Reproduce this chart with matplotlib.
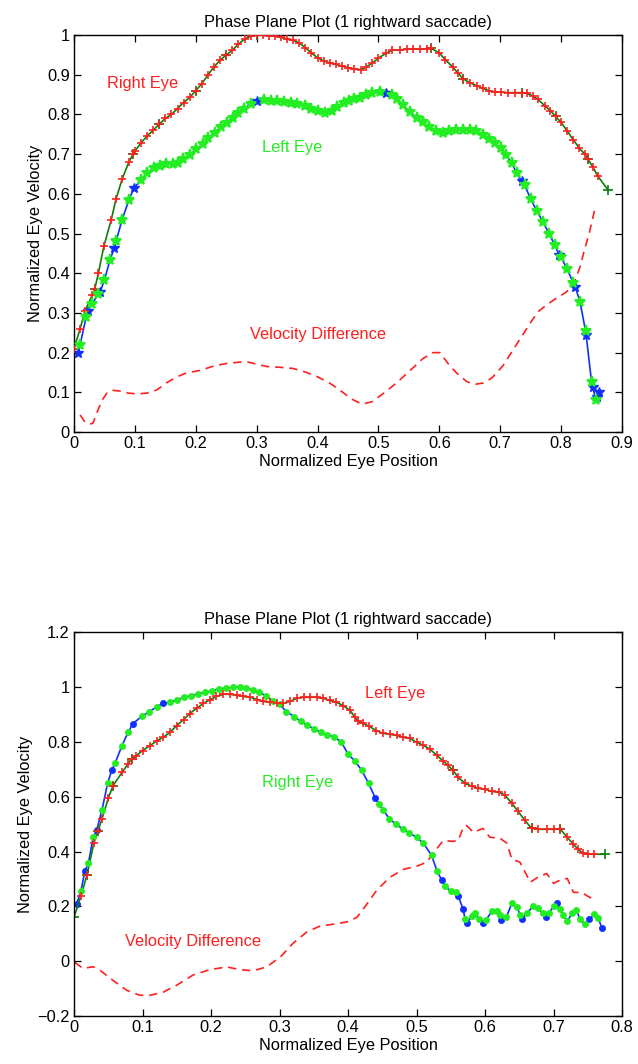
import numpy as np
import matplotlib
matplotlib.use("Agg")
import matplotlib.pyplot as plt
from matplotlib.ticker import FuncFormatter, MultipleLocator

plt.rcParams['font.family'] = ['Liberation Sans', 'DejaVu Sans']

# ---------------- Top panel data ----------------
top_right_x = [0.0, 0.01, 0.018, 0.03, 0.034, 0.04, 0.049, 0.061, 0.069, 0.079,
               0.09, 0.097, 0.10, 0.11, 0.12, 0.13, 0.14, 0.15, 0.16, 0.17,
               0.18, 0.19, 0.20, 0.21, 0.22, 0.23, 0.24, 0.25, 0.26, 0.27,
               0.28, 0.29, 0.30, 0.31, 0.32, 0.33, 0.34, 0.35, 0.36, 0.37,
               0.38, 0.39, 0.40, 0.41, 0.42, 0.43, 0.44, 0.45, 0.46, 0.471,
               0.48, 0.49, 0.50, 0.512, 0.523, 0.535, 0.547, 0.557, 0.568, 0.58,
               0.586, 0.60, 0.61, 0.622, 0.63, 0.639, 0.65, 0.661, 0.671, 0.681,
               0.691, 0.702, 0.713, 0.724, 0.735, 0.744, 0.753, 0.762, 0.773, 0.782,
               0.791, 0.80, 0.81, 0.82, 0.83, 0.839, 0.844, 0.852, 0.86, 0.877]
top_right_y = [0.21, 0.26, 0.305, 0.345, 0.36, 0.40, 0.468, 0.534, 0.587, 0.637,
               0.68, 0.70, 0.708, 0.728, 0.746, 0.76, 0.776, 0.79, 0.80, 0.815,
               0.83, 0.843, 0.86, 0.878, 0.90, 0.92, 0.937, 0.95, 0.962, 0.977,
               0.99, 0.997, 1.0, 1.0, 0.999, 0.997, 0.994, 0.99, 0.987, 0.98,
               0.968, 0.955, 0.943, 0.935, 0.93, 0.926, 0.922, 0.918, 0.915, 0.913,
               0.92, 0.93, 0.942, 0.954, 0.962, 0.963, 0.964, 0.965, 0.965, 0.965,
               0.967, 0.955, 0.937, 0.92, 0.905, 0.89, 0.88, 0.873, 0.866, 0.86,
               0.857, 0.856, 0.855, 0.855, 0.855, 0.853, 0.847, 0.838, 0.822, 0.81,
               0.795, 0.78, 0.758, 0.736, 0.715, 0.70, 0.687, 0.668, 0.645, 0.61]

top_left_x = [0.007, 0.01, 0.02, 0.023, 0.03, 0.04, 0.043, 0.05, 0.059, 0.066,
              0.069, 0.079, 0.09, 0.098, 0.11, 0.12, 0.131, 0.141, 0.151, 0.162,
              0.171, 0.179, 0.19, 0.20, 0.212, 0.22, 0.231, 0.241, 0.251, 0.261,
              0.27, 0.279, 0.29, 0.30, 0.312, 0.323, 0.334, 0.345, 0.356, 0.366,
              0.379, 0.39, 0.40, 0.412, 0.423, 0.432, 0.443, 0.452, 0.46, 0.47,
              0.48, 0.49, 0.502, 0.512, 0.522, 0.53, 0.54, 0.552, 0.563, 0.573,
              0.583, 0.594, 0.606, 0.616, 0.627, 0.639, 0.65, 0.66, 0.672, 0.681,
              0.691, 0.701, 0.709, 0.719, 0.727, 0.735, 0.74, 0.75, 0.76, 0.77,
              0.78, 0.79, 0.797, 0.80, 0.81, 0.82, 0.823, 0.831, 0.84, 0.841,
              0.85, 0.852, 0.857, 0.862, 0.859]
top_left_y = [0.20, 0.22, 0.29, 0.305, 0.323, 0.348, 0.353, 0.383, 0.433, 0.463,
              0.48, 0.535, 0.584, 0.614, 0.635, 0.652, 0.665, 0.67, 0.675, 0.676,
              0.678, 0.687, 0.698, 0.712, 0.725, 0.74, 0.754, 0.768, 0.779, 0.792,
              0.805, 0.815, 0.826, 0.834, 0.836, 0.835, 0.834, 0.832, 0.83, 0.826,
              0.822, 0.815, 0.808, 0.805, 0.81, 0.82, 0.83, 0.834, 0.838, 0.842,
              0.848, 0.853, 0.857, 0.854, 0.848, 0.84, 0.823, 0.806, 0.792, 0.78,
              0.768, 0.758, 0.753, 0.758, 0.76, 0.762, 0.762, 0.758, 0.748, 0.737,
              0.728, 0.715, 0.698, 0.677, 0.652, 0.632, 0.622, 0.587, 0.557, 0.53,
              0.50, 0.47, 0.445, 0.44, 0.41, 0.375, 0.366, 0.328, 0.255, 0.245,
              0.125, 0.113, 0.08, 0.10, 0.088]

top_diff_x = [0.01, 0.018, 0.026, 0.031, 0.038, 0.046, 0.054, 0.064, 0.076, 0.089,
              0.103, 0.12, 0.136, 0.152, 0.169, 0.185, 0.207, 0.229, 0.251, 0.272,
              0.286, 0.30, 0.316, 0.338, 0.36, 0.382, 0.40, 0.42, 0.437, 0.456,
              0.473, 0.489, 0.508, 0.53, 0.552, 0.573, 0.59, 0.601, 0.614, 0.628,
              0.645, 0.658, 0.675, 0.688, 0.705, 0.721, 0.735, 0.749, 0.762, 0.776,
              0.79, 0.806, 0.819, 0.831, 0.839, 0.846, 0.855]
top_diff_y = [0.043, 0.025, 0.02, 0.022, 0.05, 0.08, 0.098, 0.105, 0.103, 0.098,
              0.096, 0.098, 0.106, 0.124, 0.139, 0.149, 0.155, 0.166, 0.173, 0.176,
              0.176, 0.171, 0.165, 0.163, 0.16, 0.15, 0.139, 0.123, 0.105, 0.083,
              0.07, 0.076, 0.097, 0.124, 0.155, 0.185, 0.2, 0.2, 0.173, 0.149,
              0.127, 0.12, 0.124, 0.139, 0.168, 0.207, 0.24, 0.274, 0.303, 0.32,
              0.335, 0.35, 0.366, 0.416, 0.463, 0.5, 0.56]

# ---------------- Bottom panel data ----------------
bot_right_x = [0.004, 0.01, 0.016, 0.021, 0.028, 0.033, 0.041, 0.049, 0.055, 0.06,
               0.07, 0.079, 0.086, 0.099, 0.11, 0.121, 0.13, 0.14, 0.15, 0.161,
               0.171, 0.181, 0.191, 0.202, 0.212, 0.222, 0.232, 0.243, 0.251, 0.261,
               0.27, 0.28, 0.29, 0.30, 0.31, 0.321, 0.331, 0.34, 0.35, 0.36,
               0.37, 0.38, 0.39,
               0.40, 0.41, 0.42, 0.43, 0.44, 0.445, 0.451, 0.46, 0.47, 0.48,
               0.489, 0.50, 0.51, 0.522, 0.53, 0.537, 0.542, 0.55, 0.558, 0.561,
               0.568, 0.571, 0.573, 0.581, 0.585, 0.591, 0.597, 0.601, 0.61, 0.617,
               0.622, 0.624, 0.631, 0.639, 0.647, 0.651, 0.654, 0.661, 0.67, 0.677,
               0.684, 0.689, 0.693, 0.70, 0.705, 0.709, 0.714, 0.72, 0.727, 0.733,
               0.739, 0.746, 0.752, 0.759, 0.765, 0.771]
bot_right_y = [0.21, 0.255, 0.33, 0.357, 0.452, 0.477, 0.553, 0.648, 0.696, 0.722,
               0.786, 0.834, 0.866, 0.893, 0.91, 0.928, 0.94, 0.944, 0.953, 0.962,
               0.968, 0.975, 0.98, 0.986, 0.993, 0.995, 0.998, 1.0, 0.997, 0.987,
               0.98, 0.968, 0.95, 0.936, 0.91, 0.892, 0.874, 0.86, 0.848, 0.834,
               0.826, 0.817, 0.80,
               0.755, 0.73, 0.696, 0.648, 0.594, 0.572, 0.553, 0.52, 0.5, 0.482,
               0.468, 0.452, 0.43, 0.386, 0.328, 0.295, 0.273, 0.255, 0.251, 0.237,
               0.189, 0.153, 0.138, 0.164, 0.175, 0.153, 0.138, 0.149, 0.182, 0.182,
               0.168, 0.149, 0.16, 0.211, 0.197, 0.168, 0.153, 0.175, 0.2, 0.193,
               0.175, 0.16, 0.175, 0.2, 0.211, 0.189, 0.168, 0.146, 0.175, 0.186,
               0.153, 0.135, 0.153, 0.171, 0.157, 0.12]

bot_left_x = [0.0, 0.01, 0.019, 0.029, 0.035, 0.041, 0.05, 0.057, 0.07, 0.079,
              0.084, 0.09, 0.10, 0.111, 0.121, 0.13, 0.14, 0.15, 0.16, 0.169,
              0.179, 0.189, 0.199, 0.208, 0.218, 0.228, 0.238, 0.247, 0.257, 0.267,
              0.276, 0.286, 0.296, 0.305, 0.315, 0.325, 0.335, 0.345, 0.354, 0.364,
              0.373, 0.383, 0.393, 0.403, 0.41, 0.415, 0.422, 0.431, 0.441, 0.451,
              0.461, 0.471, 0.48, 0.491, 0.50, 0.51, 0.52, 0.53, 0.539, 0.546,
              0.553, 0.561, 0.571, 0.581, 0.59, 0.60, 0.61, 0.621, 0.629, 0.639,
              0.648, 0.658, 0.668, 0.678, 0.69, 0.70, 0.71, 0.72, 0.729, 0.736,
              0.743, 0.75, 0.759, 0.775]
bot_left_y = [0.16, 0.237, 0.315, 0.43, 0.475, 0.52, 0.594, 0.64, 0.688, 0.72,
              0.738, 0.747, 0.768, 0.786, 0.804, 0.816, 0.834, 0.859, 0.881, 0.903,
              0.922, 0.94, 0.954, 0.965, 0.973, 0.973, 0.969, 0.965, 0.962, 0.954,
              0.947, 0.944, 0.94, 0.94, 0.947, 0.958, 0.962, 0.962, 0.962, 0.958,
              0.951, 0.944, 0.932, 0.914, 0.889, 0.874, 0.867, 0.856, 0.841, 0.831,
              0.827, 0.823, 0.816, 0.812, 0.798, 0.787, 0.772, 0.75, 0.729, 0.714,
              0.696, 0.67, 0.648, 0.638, 0.63, 0.627, 0.619, 0.616, 0.605, 0.576,
              0.547, 0.514, 0.484, 0.481, 0.481, 0.481, 0.481, 0.452, 0.426, 0.408,
              0.393, 0.39, 0.39, 0.39]

bot_diff_x = [0.001, 0.013, 0.028, 0.038, 0.057, 0.077, 0.096, 0.111, 0.13, 0.15,
              0.174, 0.199, 0.223, 0.242, 0.261, 0.281, 0.301, 0.32, 0.34, 0.359,
              0.378, 0.398, 0.413, 0.428, 0.442, 0.461, 0.481, 0.50, 0.515, 0.524,
              0.539, 0.553, 0.561, 0.568, 0.573, 0.583, 0.597, 0.607, 0.622, 0.632,
              0.639, 0.651, 0.666, 0.677, 0.69, 0.70, 0.709, 0.72, 0.729, 0.741,
              0.75, 0.761]
bot_diff_y = [-0.004, -0.026, -0.02, -0.033, -0.07, -0.106, -0.124, -0.124, -0.113, -0.087,
              -0.05, -0.03, -0.021, -0.03, -0.035, -0.021, 0.015, 0.066, 0.107, 0.128,
              0.135, 0.143, 0.16, 0.21, 0.259, 0.306, 0.335, 0.346, 0.361, 0.393,
              0.44, 0.437, 0.44, 0.488, 0.495, 0.47, 0.484, 0.452, 0.448, 0.43,
              0.372, 0.361, 0.288, 0.306, 0.32, 0.284, 0.295, 0.302, 0.251, 0.251,
              0.237, 0.222]

title_text = "Phase Plane Plot (1 rightward saccade)"
xlabel_text = "Normalized Eye Position"
ylabel_text = "Normalized Eye Velocity"

# ---------------- Styling ----------------
RED = '#ff1f1f'
DKGREEN = '#0a800a'
BRGREEN = '#22ee22'
BLUE = '#1030ff'
FS = 11.8

fig = plt.figure(figsize=(6.38, 10.64), dpi=100)
ax1 = fig.add_axes([0.116, 0.594, 0.859, 0.373])
ax2 = fig.add_axes([0.116, 0.045, 0.859, 0.361])

fmt = FuncFormatter(lambda v, p: ('%g' % round(v, 3)).replace('-', '\u2212'))


def style_axes(ax):
    ax.tick_params(direction='in', top=True, right=True, length=5, width=0.9,
                   labelsize=FS, pad=3)
    for s in ax.spines.values():
        s.set_linewidth(1.0)
    ax.xaxis.set_major_formatter(fmt)
    ax.yaxis.set_major_formatter(fmt)
    ax.set_title(title_text, fontsize=FS, pad=6)
    ax.set_xlabel(xlabel_text, fontsize=FS, labelpad=2)
    ax.set_ylabel(ylabel_text, fontsize=FS, labelpad=3)


# Top panel
ax1.plot(top_right_x, top_right_y, '-', color=DKGREEN, lw=1.2, zorder=2,
         marker='+', ms=7, mew=1.2, markevery=[0, 4, 11, 16, 22, 27, 32, 60, 65, 74, 80, 86, 89])
ax1.plot(top_right_x[:-1], top_right_y[:-1], linestyle='none', marker='+', ms=6, mew=1.2,
         color=RED, zorder=3)
blue_idx_top = [0, 3, 6, 9, 13, 33, 53, 75, 82, 86, 89, 91, 93, 94]
green_idx_top = [i for i in range(len(top_left_x)) if i not in blue_idx_top]
ax1.plot(top_left_x, top_left_y, '-', color=BLUE, lw=1.2, zorder=2,
         marker='*', ms=7, mew=1.0, markevery=blue_idx_top)
ax1.plot([top_left_x[i] for i in green_idx_top], [top_left_y[i] for i in green_idx_top],
         linestyle='none', marker='*', ms=8, mew=1.4, color=BRGREEN, zorder=3)
ax1.plot(top_diff_x, top_diff_y, color=RED, lw=1.2, dashes=(5, 3.5), zorder=1)

ax1.text(0.112, 0.877, "Right Eye", color=RED, fontsize=FS, ha='center', va='center')
ax1.text(0.358, 0.718, "Left Eye", color=BRGREEN, fontsize=FS, ha='center', va='center')
ax1.text(0.40, 0.245, "Velocity Difference", color=RED, fontsize=FS, ha='center', va='center')

ax1.set_xlim(0, 0.9)
ax1.set_ylim(0, 1)
ax1.xaxis.set_major_locator(MultipleLocator(0.1))
ax1.yaxis.set_major_locator(MultipleLocator(0.1))
style_axes(ax1)

# Bottom panel
blue_idx_bot = [0, 2, 5, 8, 12, 16, 47, 58, 62, 63, 65, 69, 74, 79, 84, 87, 95, 98]
green_idx_bot = [i for i in range(len(bot_right_x)) if i not in blue_idx_bot]
ax2.plot(bot_right_x, bot_right_y, '-', color=BLUE, lw=1.2, zorder=2,
         marker='o', ms=4.5, mew=0.5, markevery=blue_idx_bot)
ax2.plot([bot_right_x[i] for i in green_idx_bot], [bot_right_y[i] for i in green_idx_bot],
         linestyle='none', marker='o', ms=5, mew=0, color=BRGREEN, zorder=3)
ax2.plot(bot_left_x, bot_left_y, '-', color=DKGREEN, lw=1.2, zorder=2,
         marker='+', ms=7, mew=1.2, markevery=[0, 2, 4, 7, 10, 60, 72, 76, 83])
ax2.plot(bot_left_x[1:-1], bot_left_y[1:-1], linestyle='none', marker='+', ms=6, mew=1.2,
         color=RED, zorder=3)
ax2.plot(bot_diff_x, bot_diff_y, color=RED, lw=1.2, dashes=(5, 3.5), zorder=1)

ax2.text(0.469, 0.976, "Left Eye", color=RED, fontsize=FS, ha='center', va='center')
ax2.text(0.327, 0.652, "Right Eye", color=BRGREEN, fontsize=FS, ha='center', va='center')
ax2.text(0.174, 0.073, "Velocity Difference", color=RED, fontsize=FS, ha='center', va='center')

ax2.set_xlim(0, 0.8)
ax2.set_ylim(-0.2, 1.2)
ax2.xaxis.set_major_locator(MultipleLocator(0.1))
ax2.yaxis.set_major_locator(MultipleLocator(0.2))
style_axes(ax2)

fig.savefig("out.png", dpi=100)
